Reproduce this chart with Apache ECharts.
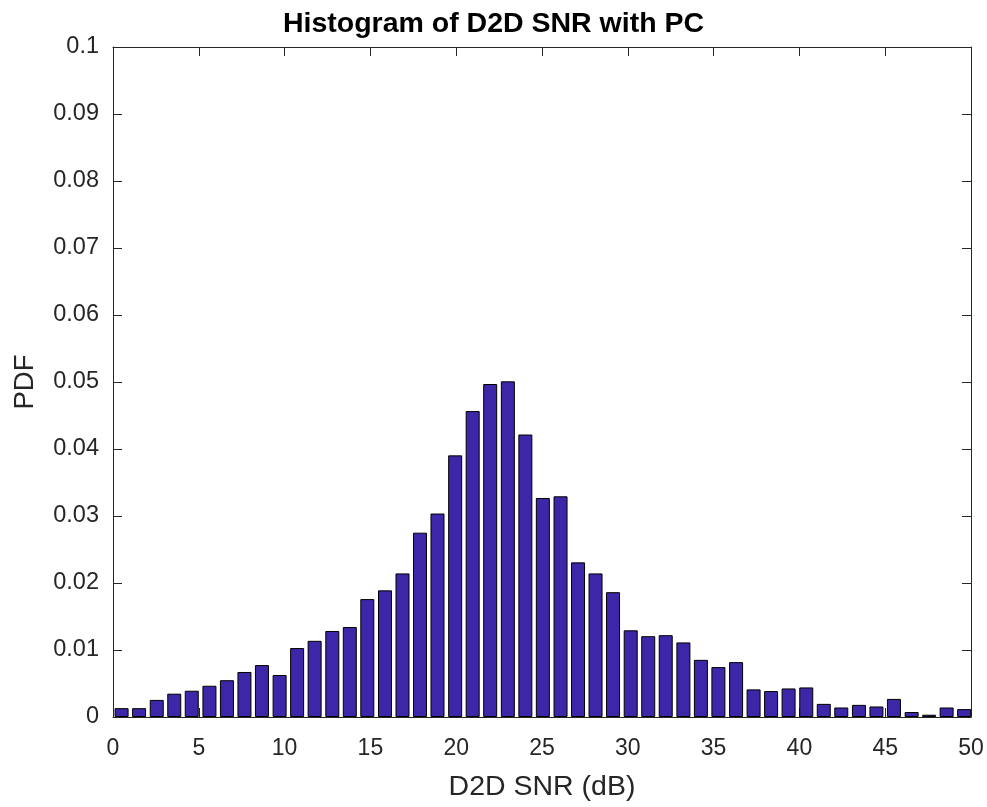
<!DOCTYPE html>
<html>
<head>
<meta charset="utf-8">
<script src="https://cdn.jsdelivr.net/npm/echarts@6/dist/echarts.min.js"></script>
<style>html,body{margin:0;padding:0;background:#fff}#c{width:987px;height:807px}</style>
</head>
<body>
<div id="c"></div>
<script>
const binCenters = [0.50,1.52,2.55,3.57,4.59,5.62,6.64,7.66,8.68,9.71,10.73,11.75,12.78,13.80,14.82,15.85,16.87,17.89,18.91,19.94,20.96,21.98,23.01,24.03,25.05,26.08,27.10,28.12,29.14,30.17,31.19,32.21,33.24,34.26,35.28,36.31,37.33,38.35,39.37,40.40,41.42,42.44,43.47,44.49,45.51,46.54,47.56,48.58,49.60];
const pdfValues = [0.00132,0.00132,0.00255,0.00348,0.00392,0.00466,0.00549,0.00672,0.00775,0.00627,0.01029,0.01137,0.01284,0.01343,0.0176,0.01890,0.02143,0.02751,0.03037,0.03905,0.04566,0.04970,0.05010,0.04216,0.03269,0.03294,0.02308,0.02143,0.01863,0.01294,0.01206,0.01221,0.01113,0.00853,0.00745,0.00819,0.00412,0.00387,0.00426,0.00441,0.00196,0.00142,0.00181,0.00157,0.00270,0.00074,0.00034,0.00142,0.00118];
const xTicks = [0,5,10,15,20,25,30,35,40,45,50];
const yTicks = [0,0.01,0.02,0.03,0.04,0.05,0.06,0.07,0.08,0.09,0.1];
const titleText = 'Histogram of D2D SNR with PC';
const xName = 'D2D SNR (dB)';
const yName = 'PDF';

const FONT = 'Liberation Sans, Arial, Helvetica, sans-serif';
const TXT = '#262626';
const chart = echarts.init(document.getElementById('c'));
const axisCommon = {
  axisLine: {show: true, onZero: false, lineStyle: {color: TXT, width: 1}},
  axisTick: {show: true, inside: true, length: 9, lineStyle: {color: TXT, width: 1}},
  splitLine: {show: false},
  minorTick: {show: false}
};
const pts = binCenters.map((c, i) => [c, pdfValues[i]]);
chart.setOption({
  animation: false,
  backgroundColor: '#fff',
  title: {
    text: titleText, left: 'center', top: 5,
    textStyle: {fontFamily: FONT, fontSize: 28.5, fontWeight: 'bold', color: '#000'}
  },
  grid: {left: 113, top: 47, right: 16, bottom: 84, containLabel: false},
  xAxis: [
    Object.assign({}, axisCommon, {
      type: 'value', position: 'bottom', min: xTicks[0], max: xTicks[xTicks.length-1], interval: 5,
      name: xName, nameLocation: 'middle', nameGap: 56,
      nameTextStyle: {fontFamily: FONT, fontSize: 28.5, color: TXT},
      axisLabel: {fontFamily: FONT, fontSize: 23, color: TXT, margin: 20}
    }),
    Object.assign({}, axisCommon, {
      type: 'value', position: 'top', min: xTicks[0], max: xTicks[xTicks.length-1], interval: 5,
      axisLabel: {show: false}
    })
  ],
  yAxis: [
    Object.assign({}, axisCommon, {
      type: 'value', position: 'left', min: yTicks[0], max: yTicks[yTicks.length-1], interval: 0.01,
      name: yName, nameLocation: 'middle', nameGap: 74, nameRotate: 90,
      nameTextStyle: {fontFamily: FONT, fontSize: 27.5, color: TXT},
      axisLabel: {fontFamily: FONT, fontSize: 23.5, color: TXT, margin: 14, padding: [4, 0, 0, 0],
        formatter: v => String(parseFloat(v.toFixed(2)))}
    }),
    Object.assign({}, axisCommon, {
      type: 'value', position: 'right', min: yTicks[0], max: yTicks[yTicks.length-1], interval: 0.01,
      axisLabel: {show: false}
    })
  ],
  series: [{
    type: 'bar',
    xAxisIndex: 0, yAxisIndex: 0,
    data: pts,
    barWidth: 14,
    clip: true,
    itemStyle: {color: '#3e26a8', borderColor: '#000', borderWidth: 1}
  }]
});
</script>
</body>
</html>
